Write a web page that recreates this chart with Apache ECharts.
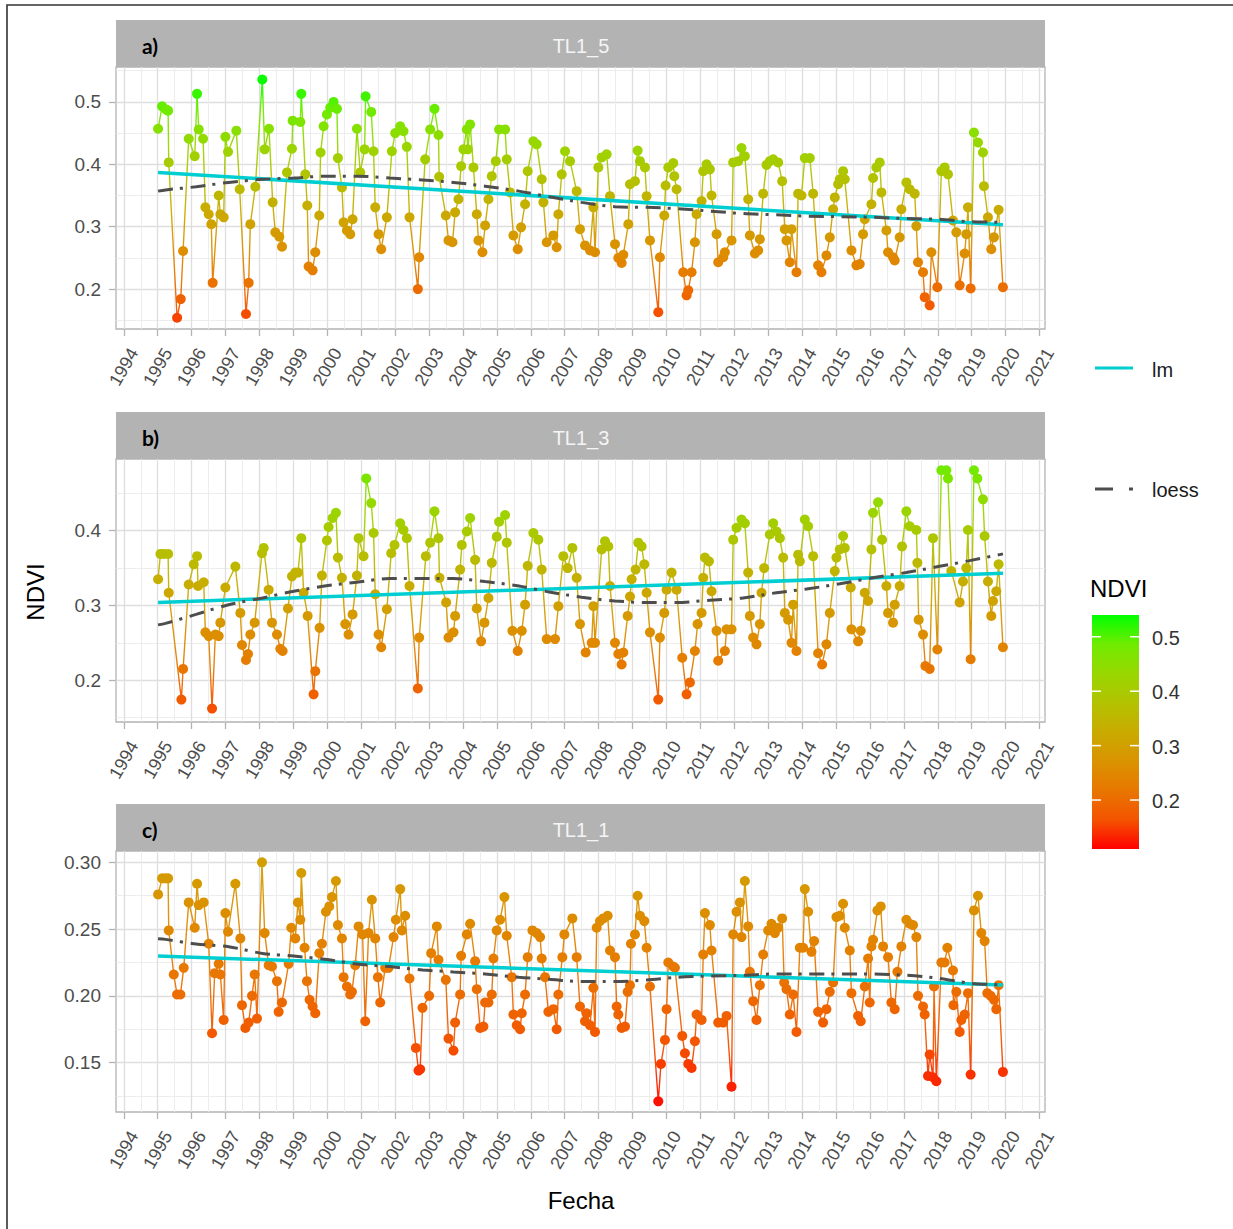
<!DOCTYPE html>
<html><head><meta charset="utf-8">
<script src="https://cdn.jsdelivr.net/npm/echarts@6/dist/echarts.min.js"></script>
<style>html,body{margin:0;padding:0;background:#fff}#c{width:1233px;height:1229px}</style>
</head><body><div id="c"></div>
<script>
// ---------- DATA ----------
const panelNames = ['TL1_5', 'TL1_3', 'TL1_1'];
const panelTags = ['a)', 'b)', 'c)'];
const xMajorTicks = [1994,1995,1996,1997,1998,1999,2000,2001,2002,2003,2004,2005,2006,2007,2008,2009,2010,2011,2012,2013,2014,2015,2016,2017,2018,2019,2020,2021];
const yTicksA = [0.2, 0.3, 0.4, 0.5];
const yTicksB = [0.2, 0.3, 0.4];
const yTicksC = [0.15, 0.20, 0.25, 0.30];
const cbTicks = [0.2, 0.3, 0.4, 0.5];

const pointsA = [
[1995.011,0.457],[1995.129,0.493],[1995.247,0.488],[1995.306,0.486],[1995.325,0.403],[1995.571,0.154],[1995.679,0.184],[1995.748,0.261],[1995.914,0.441],
[1996.091,0.413],[1996.16,0.513],[1996.209,0.456],[1996.337,0.441],[1996.405,0.331],[1996.504,0.320],[1996.58,0.304],[1996.62,0.210],[1996.798,0.350],[1996.847,0.320],[1996.945,0.315],
[1996.995,0.444],[1997.073,0.420],[1997.318,0.454],[1997.417,0.360],[1997.603,0.160],[1997.682,0.210],[1997.731,0.304],[1997.878,0.364],
[1998.084,0.536],[1998.153,0.424],[1998.281,0.457],[1998.389,0.339],[1998.467,0.291],[1998.585,0.284],[1998.664,0.268],[1998.811,0.387],[1998.958,0.425],[1998.978,0.470],
[1999.204,0.468],[1999.233,0.513],[1999.351,0.384],[1999.41,0.334],[1999.449,0.236],[1999.567,0.230],[1999.646,0.259],[1999.763,0.318],[1999.802,0.419],[1999.891,0.461],
[1999.989,0.480],[2000.087,0.491],[2000.185,0.500],[2000.284,0.489],[2000.313,0.410],[2000.431,0.363],[2000.48,0.307],[2000.578,0.294],[2000.676,0.288],[2000.745,0.312],[2000.873,0.457],[2000.971,0.387],
[2001.10,0.424],[2001.13,0.509],[2001.295,0.484],[2001.364,0.421],[2001.413,0.331],[2001.511,0.288],[2001.589,0.264],[2001.756,0.315],[2001.903,0.421],
[2002.002,0.450],[2002.149,0.461],[2002.247,0.453],[2002.345,0.428],[2002.424,0.315],[2002.669,0.200],[2002.709,0.251],[2002.885,0.408],
[2003.033,0.456],[2003.16,0.489],[2003.278,0.447],[2003.298,0.380],[2003.494,0.318],[2003.573,0.278],[2003.691,0.275],[2003.769,0.323],[2003.867,0.344],[2003.946,0.397],
[2004.014,0.424],[2004.113,0.456],[2004.142,0.424],[2004.211,0.464],[2004.309,0.395],[2004.407,0.320],[2004.456,0.278],[2004.574,0.259],[2004.653,0.302],[2004.751,0.344],[2004.849,0.381],[2004.967,0.405],
[2005.065,0.456],[2005.242,0.456],[2005.291,0.408],[2005.389,0.355],[2005.487,0.286],[2005.615,0.264],[2005.713,0.299],[2005.831,0.336],[2005.909,0.389],
[2006.076,0.437],[2006.174,0.432],[2006.322,0.376],[2006.371,0.339],[2006.469,0.275],[2006.665,0.286],[2006.763,0.267],[2006.812,0.320],[2006.911,0.384],
[2007.009,0.421],[2007.156,0.405],[2007.352,0.357],[2007.45,0.296],[2007.598,0.270],[2007.746,0.262],[2007.844,0.331],[2007.893,0.259],
[2007.991,0.395],[2008.089,0.411],[2008.237,0.416],[2008.335,0.349],[2008.482,0.272],[2008.58,0.250],[2008.678,0.242],[2008.727,0.255],[2008.875,0.304],[2008.924,0.368],
[2009.071,0.373],[2009.15,0.422],[2009.218,0.405],[2009.366,0.395],[2009.415,0.349],[2009.513,0.278],[2009.758,0.163],[2009.807,0.251],[2009.935,0.318],[2009.974,0.366],
[2010.053,0.395],[2010.2,0.402],[2010.23,0.381],[2010.298,0.360],[2010.495,0.227],[2010.593,0.190],[2010.642,0.198],[2010.74,0.227],[2010.838,0.275],[2010.887,0.320],
[2011.035,0.341],[2011.084,0.389],[2011.182,0.400],[2011.28,0.392],[2011.329,0.350],[2011.477,0.288],[2011.525,0.243],[2011.673,0.251],[2011.722,0.259],[2011.918,0.278],
[2011.967,0.403],[2012.115,0.405],[2012.213,0.426],[2012.311,0.413],[2012.409,0.344],[2012.458,0.286],[2012.606,0.257],[2012.704,0.262],[2012.753,0.280],[2012.851,0.353],[2012.949,0.399],
[2013.047,0.405],[2013.146,0.408],[2013.293,0.403],[2013.411,0.373],[2013.489,0.296],[2013.538,0.278],[2013.636,0.243],[2013.686,0.296],[2013.833,0.227],[2013.882,0.353],
[2013.98,0.350],[2014.078,0.410],[2014.226,0.410],[2014.324,0.353],[2014.471,0.238],[2014.569,0.227],[2014.716,0.254],[2014.815,0.283],[2014.913,0.328],
[2014.962,0.347],[2015.06,0.368],[2015.109,0.376],[2015.207,0.389],[2015.257,0.376],[2015.453,0.262],[2015.6,0.238],[2015.698,0.240],[2015.796,0.288],[2015.846,0.312],
[2016.042,0.336],[2016.091,0.378],[2016.189,0.395],[2016.287,0.403],[2016.337,0.355],[2016.484,0.294],[2016.533,0.259],[2016.68,0.251],[2016.729,0.246],[2016.876,0.283],[2016.925,0.328],
[2017.073,0.371],[2017.171,0.360],[2017.318,0.353],[2017.367,0.301],[2017.416,0.243],[2017.564,0.227],[2017.613,0.187],[2017.76,0.174],[2017.809,0.259],[2017.986,0.203],
[2018.104,0.389],[2018.202,0.395],[2018.3,0.384],[2018.447,0.310],[2018.546,0.291],[2018.644,0.206],[2018.791,0.257],[2018.84,0.288],[2018.889,0.331],[2018.968,0.201],
[2019.066,0.451],[2019.184,0.435],[2019.331,0.419],[2019.36,0.365],[2019.478,0.315],[2019.576,0.264],[2019.655,0.283],[2019.792,0.327],[2019.92,0.203]
];

const pointsB = [
[1995.011,0.335],[1995.08,0.369],[1995.178,0.369],[1995.306,0.369],[1995.325,0.317],[1995.698,0.174],[1995.748,0.215],[1995.914,0.328],
[1996.062,0.355],[1996.16,0.366],[1996.189,0.326],[1996.356,0.331],[1996.405,0.264],[1996.504,0.259],[1996.602,0.162],[1996.7,0.261],[1996.798,0.259],[1996.847,0.277],
[1996.995,0.324],[1997.289,0.352],[1997.436,0.290],[1997.485,0.247],[1997.603,0.227],[1997.662,0.235],[1997.731,0.261],[1997.858,0.277],
[1998.074,0.370],[1998.124,0.377],[1998.271,0.321],[1998.369,0.277],[1998.516,0.261],[1998.614,0.242],[1998.683,0.239],[1998.84,0.296],[1998.958,0.339],
[1999.056,0.344],[1999.135,0.344],[1999.233,0.390],[1999.302,0.317],[1999.42,0.286],[1999.596,0.181],[1999.646,0.212],[1999.773,0.270],[1999.842,0.340],
[1999.989,0.387],[2000.038,0.405],[2000.156,0.417],[2000.254,0.424],[2000.313,0.364],[2000.431,0.337],[2000.529,0.275],[2000.627,0.261],[2000.745,0.288],[2000.873,0.340],[2000.922,0.390],
[2001.069,0.366],[2001.148,0.470],[2001.295,0.437],[2001.364,0.397],[2001.413,0.315],[2001.511,0.261],[2001.589,0.244],[2001.756,0.295],[2001.884,0.370],
[2001.982,0.381],[2002.149,0.410],[2002.247,0.401],[2002.345,0.390],[2002.424,0.326],[2002.669,0.189],[2002.709,0.257],[2002.905,0.366],
[2003.033,0.384],[2003.16,0.426],[2003.278,0.390],[2003.308,0.337],[2003.504,0.304],[2003.573,0.257],[2003.72,0.264],[2003.769,0.286],[2003.916,0.348],[2003.965,0.381],
[2004.113,0.399],[2004.211,0.417],[2004.358,0.361],[2004.407,0.296],[2004.535,0.252],[2004.633,0.277],[2004.751,0.310],[2004.849,0.357],[2004.996,0.392],
[2005.065,0.412],[2005.242,0.421],[2005.291,0.384],[2005.458,0.266],[2005.615,0.239],[2005.733,0.266],[2005.831,0.301],[2005.909,0.353],
[2006.076,0.397],[2006.223,0.388],[2006.322,0.348],[2006.469,0.255],[2006.714,0.255],[2006.812,0.299],[2006.96,0.366],
[2007.087,0.350],[2007.225,0.377],[2007.352,0.337],[2007.45,0.275],[2007.618,0.237],[2007.795,0.250],[2007.844,0.299],[2007.893,0.250],
[2008.089,0.375],[2008.187,0.386],[2008.286,0.379],[2008.335,0.326],[2008.482,0.250],[2008.58,0.235],[2008.678,0.221],[2008.727,0.237],[2008.855,0.286],[2008.924,0.312],
[2008.973,0.335],[2009.091,0.348],[2009.169,0.384],[2009.267,0.379],[2009.346,0.355],[2009.415,0.317],[2009.513,0.264],[2009.758,0.174],[2009.807,0.257],[2009.935,0.290],
[2010.004,0.321],[2010.151,0.344],[2010.298,0.321],[2010.465,0.230],[2010.593,0.181],[2010.691,0.197],[2010.838,0.239],[2010.917,0.275],[2011.035,0.290],
[2011.084,0.337],[2011.133,0.364],[2011.251,0.359],[2011.329,0.319],[2011.477,0.266],[2011.525,0.226],[2011.722,0.239],[2011.771,0.268],[2011.918,0.268],
[2011.967,0.388],[2012.066,0.404],[2012.213,0.415],[2012.311,0.410],[2012.409,0.344],[2012.458,0.286],[2012.556,0.257],[2012.655,0.248],[2012.753,0.275],[2012.802,0.317],[2012.88,0.350],
[2013.047,0.395],[2013.146,0.410],[2013.244,0.399],[2013.342,0.390],[2013.44,0.364],[2013.489,0.290],[2013.587,0.281],[2013.686,0.250],[2013.735,0.301],[2013.833,0.239],[2013.882,0.368],
[2013.931,0.359],[2014.078,0.415],[2014.176,0.406],[2014.324,0.366],[2014.471,0.236],[2014.589,0.221],[2014.716,0.248],[2014.815,0.290],[2014.962,0.346],
[2015.011,0.364],[2015.109,0.375],[2015.207,0.393],[2015.257,0.377],[2015.433,0.324],[2015.453,0.268],[2015.649,0.252],[2015.728,0.266],[2015.846,0.317],[2015.944,0.306],
[2016.042,0.375],[2016.091,0.424],[2016.238,0.438],[2016.356,0.388],[2016.484,0.326],[2016.533,0.290],[2016.68,0.277],[2016.729,0.301],[2016.876,0.326],[2016.945,0.379],
[2017.073,0.426],[2017.171,0.406],[2017.367,0.401],[2017.397,0.357],[2017.436,0.281],[2017.564,0.261],[2017.633,0.219],[2017.76,0.215],[2017.858,0.390],[2017.986,0.241],
[2018.104,0.481],[2018.251,0.481],[2018.3,0.470],[2018.398,0.346],[2018.644,0.304],[2018.742,0.332],[2018.84,0.350],[2018.889,0.401],[2018.968,0.228],
[2019.066,0.481],[2019.164,0.470],[2019.331,0.442],[2019.38,0.393],[2019.478,0.332],[2019.576,0.286],[2019.626,0.306],[2019.724,0.319],[2019.792,0.355],[2019.92,0.244]
];

const pointsC = [
[1995.011,0.276],[1995.129,0.288],[1995.227,0.288],[1995.306,0.288],[1995.325,0.249],[1995.473,0.216],[1995.571,0.201],[1995.669,0.201],[1995.767,0.221],[1995.914,0.270],
[1996.091,0.251],[1996.16,0.284],[1996.209,0.268],[1996.356,0.270],[1996.504,0.239],[1996.602,0.172],[1996.68,0.217],[1996.798,0.224],[1996.847,0.216],[1996.945,0.182],
[1996.995,0.262],[1997.073,0.248],[1997.289,0.284],[1997.436,0.243],[1997.485,0.193],[1997.584,0.176],[1997.682,0.180],[1997.78,0.200],[1997.858,0.216],[1997.927,0.183],
[1998.074,0.300],[1998.153,0.247],[1998.271,0.223],[1998.369,0.222],[1998.516,0.211],[1998.565,0.188],[1998.664,0.195],[1998.86,0.224],[1998.938,0.251],
[1999.056,0.243],[1999.135,0.270],[1999.204,0.257],[1999.233,0.292],[1999.331,0.236],[1999.4,0.211],[1999.478,0.197],[1999.567,0.192],[1999.646,0.187],[1999.763,0.232],[1999.842,0.239],
[1999.96,0.263],[2000.058,0.267],[2000.136,0.274],[2000.254,0.286],[2000.313,0.253],[2000.431,0.243],[2000.48,0.214],[2000.578,0.207],[2000.676,0.201],[2000.725,0.203],[2000.824,0.223],[2000.922,0.252],
[2001.04,0.246],[2001.118,0.181],[2001.216,0.247],[2001.314,0.272],[2001.413,0.243],[2001.491,0.214],[2001.56,0.195],[2001.707,0.221],[2001.805,0.221],
[2001.953,0.244],[2002.021,0.257],[2002.149,0.280],[2002.198,0.249],[2002.296,0.260],[2002.424,0.213],[2002.611,0.161],[2002.689,0.144],[2002.738,0.145],[2002.807,0.191],
[2003.003,0.200],[2003.062,0.232],[2003.229,0.252],[2003.278,0.227],[2003.494,0.212],[2003.573,0.168],[2003.72,0.159],[2003.769,0.180],[2003.916,0.201],[2003.946,0.230],
[2004.113,0.246],[2004.211,0.254],[2004.358,0.226],[2004.407,0.205],[2004.505,0.176],[2004.603,0.177],[2004.653,0.195],[2004.751,0.195],[2004.849,0.201],[2004.898,0.228],[2004.996,0.249],
[2005.094,0.257],[2005.222,0.274],[2005.291,0.245],[2005.438,0.214],[2005.487,0.186],[2005.585,0.178],[2005.683,0.175],[2005.733,0.187],[2005.831,0.201],[2005.909,0.229],
[2006.047,0.249],[2006.174,0.247],[2006.273,0.244],[2006.322,0.228],[2006.42,0.214],[2006.518,0.188],[2006.665,0.190],[2006.763,0.175],[2006.812,0.201],[2006.93,0.229],
[2006.989,0.246],[2007.225,0.258],[2007.352,0.229],[2007.45,0.192],[2007.598,0.181],[2007.647,0.187],[2007.746,0.178],[2007.844,0.206],[2007.893,0.173],
[2007.942,0.251],[2008.04,0.256],[2008.138,0.258],[2008.266,0.260],[2008.335,0.234],[2008.482,0.229],[2008.531,0.192],[2008.58,0.186],[2008.678,0.176],[2008.777,0.177],[2008.855,0.203],[2008.924,0.208],
[2008.953,0.239],[2009.071,0.246],[2009.15,0.275],[2009.218,0.260],[2009.346,0.256],[2009.415,0.236],[2009.513,0.207],[2009.758,0.121],[2009.837,0.149],[2009.955,0.167],[2010.004,0.190],
[2010.053,0.225],[2010.2,0.222],[2010.249,0.221],[2010.465,0.170],[2010.544,0.157],[2010.642,0.149],[2010.74,0.146],[2010.838,0.166],[2010.887,0.186],[2011.035,0.182],
[2011.084,0.231],[2011.133,0.262],[2011.28,0.253],[2011.329,0.234],[2011.525,0.180],[2011.673,0.180],[2011.771,0.185],[2011.918,0.132],
[2011.967,0.246],[2012.066,0.263],[2012.164,0.270],[2012.213,0.244],[2012.311,0.286],[2012.409,0.252],[2012.458,0.218],[2012.556,0.196],[2012.655,0.182],[2012.753,0.208],[2012.851,0.231],
[2012.998,0.249],[2013.096,0.254],[2013.195,0.247],[2013.293,0.251],[2013.411,0.258],[2013.47,0.210],[2013.538,0.205],[2013.636,0.186],[2013.735,0.201],[2013.833,0.173],[2013.931,0.236],
[2014.029,0.236],[2014.078,0.280],[2014.176,0.263],[2014.275,0.233],[2014.353,0.241],[2014.471,0.188],[2014.618,0.180],[2014.716,0.190],[2014.815,0.203],[2014.913,0.210],
[2015.011,0.259],[2015.109,0.260],[2015.207,0.269],[2015.257,0.251],[2015.404,0.234],[2015.453,0.202],[2015.649,0.185],[2015.728,0.181],[2015.846,0.207],[2015.944,0.228],[2015.993,0.195],
[2016.042,0.237],[2016.091,0.242],[2016.219,0.264],[2016.317,0.267],[2016.386,0.237],[2016.533,0.229],[2016.631,0.195],[2016.729,0.190],[2016.808,0.218],[2016.925,0.237],
[2017.073,0.257],[2017.171,0.254],[2017.269,0.253],[2017.367,0.244],[2017.416,0.200],[2017.564,0.192],[2017.613,0.186],[2017.711,0.140],[2017.76,0.156],[2017.858,0.139],[2017.888,0.207],[2017.956,0.136],
[2018.104,0.225],[2018.202,0.225],[2018.281,0.236],[2018.447,0.219],[2018.46,0.193],[2018.546,0.203],[2018.644,0.173],[2018.693,0.182],[2018.791,0.186],[2018.889,0.202],[2018.968,0.141],
[2019.066,0.264],[2019.184,0.275],[2019.282,0.247],[2019.38,0.241],[2019.459,0.202],[2019.557,0.200],[2019.655,0.197],[2019.724,0.190],[2019.792,0.208],[2019.92,0.143]
];

const lmDates = [1995.011, 2019.92];
const lmA = [0.387, 0.303];
const lmB = [0.304, 0.343];
const lmC = [0.2298, 0.2082];

const loessDates = [1995.01,1995.23,1996.13,1997.09,1998.09,1999.01,1999.92,2000.87,2001.84,2002.81,2003.72,2004.65,2005.65,2006.54,2007.5,2008.48,2009.41,2010.3,2011.28,2012.26,2013.24,2014.13,2015.11,2016.09,2017.07,2018.01,2018.94,2019.82,2019.92];
const loessA = [0.357,0.359,0.364,0.371,0.376,0.378,0.381,0.381,0.378,0.375,0.371,0.365,0.357,0.348,0.339,0.332,0.331,0.329,0.325,0.321,0.319,0.317,0.316,0.315,0.313,0.312,0.308,0.307,0.306];
const loessB = [0.274,0.276,0.288,0.301,0.310,0.319,0.326,0.331,0.336,0.336,0.336,0.332,0.326,0.318,0.311,0.306,0.304,0.304,0.307,0.310,0.317,0.322,0.329,0.337,0.344,0.352,0.360,0.368,0.369];
const loessC = [0.2428,0.2423,0.2388,0.2368,0.2318,0.2298,0.2274,0.2239,0.2219,0.2194,0.2179,0.2164,0.2139,0.2124,0.2107,0.2107,0.2119,0.2139,0.2149,0.2154,0.2164,0.2164,0.2164,0.2164,0.2154,0.2132,0.2095,0.2083,0.2082];

// ---------- LAYOUT / STYLE ----------
const ndviColors = ['#FF0000','#F45300','#E87700','#DA9300','#C9AB00','#B3C200','#98D700','#70EB00','#00FF00'];
const cbMin = 0.11, cbMax = 0.54;
const xMin = 1993.77, xMax = 2021.16;
const xMinorTicks = xMajorTicks.slice(0, -1).map(v => v + 0.5);
const panels = [
  {pts: pointsA, lm: lmA, loess: loessA, ymin: 0.136, ymax: 0.556, major: yTicksA, minor: [0.15,0.25,0.35,0.45,0.55], dec: 1, top: 67, height: 262},
  {pts: pointsB, lm: lmB, loess: loessB, ymin: 0.144, ymax: 0.496, major: yTicksB, minor: [0.15,0.25,0.35,0.45], dec: 1, top: 459, height: 263},
  {pts: pointsC, lm: lmC, loess: loessC, ymin: 0.1130, ymax: 0.3085, major: yTicksC, minor: [0.125,0.175,0.225,0.275], dec: 2, top: 851, height: 261}
];
const GL = 116, GW = 929;
const FONT = 'Liberation Sans, Arial, sans-serif';
const gridCol = '#DEDEDE', minorCol = '#EBEBEB', frameCol = '#B3B3B3', textCol = '#4D4D4D';

const grids = [], xAxes = [], yAxes = [], series = [], graphics = [];
panels.forEach((p, i) => {
  grids.push({left: GL, top: p.top, width: GW, height: p.height, show: true, backgroundColor: '#fff',
    borderColor: frameCol, borderWidth: 1.3, containLabel: false, outerBoundsMode: 'none'});
  xAxes.push({type: 'value', gridIndex: i, min: xMin, max: xMax, position: 'bottom',
    axisLine: {show: false},
    axisTick: {show: true, customValues: xMajorTicks, length: 7, lineStyle: {color: frameCol, width: 1.3}},
    axisLabel: {show: true, customValues: xMajorTicks, rotate: 60, align: 'center', verticalAlign: 'middle',
      margin: 38, fontSize: 18, fontFamily: FONT, color: textCol, hideOverlap: false,
      formatter: v => String(Math.round(v))},
    splitLine: {show: true, lineStyle: {color: gridCol, width: 1.3}}});
  xAxes.push({type: 'value', gridIndex: i, min: xMin, max: xMax, position: 'top',
    axisLine: {show: false}, axisTick: {show: false, customValues: xMinorTicks}, axisLabel: {show: false},
    splitLine: {show: true, lineStyle: {color: minorCol, width: 0.9}}});
  yAxes.push({type: 'value', gridIndex: i, min: p.ymin, max: p.ymax, position: 'left',
    axisLine: {show: false},
    axisTick: {show: true, customValues: p.major, length: 7, lineStyle: {color: frameCol, width: 1.3}},
    axisLabel: {show: true, customValues: p.major, margin: 15, fontSize: 19, fontFamily: FONT, color: textCol,
      formatter: v => v.toFixed(p.dec)},
    splitLine: {show: true, lineStyle: {color: gridCol, width: 1.3}}});
  yAxes.push({type: 'value', gridIndex: i, min: p.ymin, max: p.ymax, position: 'right',
    axisLine: {show: false}, axisTick: {show: false, customValues: p.minor}, axisLabel: {show: false},
    splitLine: {show: true, lineStyle: {color: minorCol, width: 0.9}}});

  series.push({type: 'line', name: 'NDVI' + i, xAxisIndex: 2 * i, yAxisIndex: 2 * i, data: p.pts,
    symbol: 'circle', symbolSize: 10, showSymbol: true, lineStyle: {width: 1.4, opacity: 0.95},
    silent: true, z: 3, emphasis: {disabled: true}});
  series.push({type: 'line', name: 'lm' + i, xAxisIndex: 2 * i, yAxisIndex: 2 * i,
    data: lmDates.map((d, k) => [d, p.lm[k]]), symbol: 'none',
    lineStyle: {color: '#00CED1', width: 3.5}, itemStyle: {color: '#00CED1'}, silent: true, z: 5});
  series.push({type: 'line', name: 'loess' + i, xAxisIndex: 2 * i, yAxisIndex: 2 * i,
    data: loessDates.map((d, k) => [d, p.loess[k]]), symbol: 'none', smooth: 0.3,
    lineStyle: {color: '#4D4D4D', width: 3, type: [15, 7, 3, 7.7]}, itemStyle: {color: '#4D4D4D'}, silent: true, z: 6});

  // facet strip
  const sTop = p.top - 47;
  graphics.push({type: 'rect', shape: {x: GL, y: sTop, width: GW, height: 47}, style: {fill: '#B3B3B3'}, z: 10});
  graphics.push({type: 'text', x: 581, y: sTop + 26, style: {text: panelNames[i], x: 0, y: 0, fill: '#F5F5F5',
    font: '20px ' + FONT, align: 'center', verticalAlign: 'middle', textAlign: 'center', textVerticalAlign: 'middle'}, z: 11});
  graphics.push({type: 'text', x: 142, y: sTop + 25, style: {text: panelTags[i], x: 0, y: 0, fill: '#000',
    font: 'bold 21px Lato, Open Sans, sans-serif', align: 'left', verticalAlign: 'middle', textAlign: 'left', textVerticalAlign: 'middle'}, z: 11});
});

function txt(t, x, y, size, color, align, extra) {
  return Object.assign({type: 'text', x: x, y: y, z: 20, style: {text: t, x: 0, y: 0, fill: color,
    font: size + 'px ' + FONT, align: align, verticalAlign: 'middle', textAlign: align, textVerticalAlign: 'middle'}}, extra || {});
}
// outer frame
graphics.push({type: 'polyline', shape: {points: [[7, 1240], [7, 5], [1240, 5]]}, style: {stroke: '#333', lineWidth: 1.6, fill: null}, z: 20});
// axis titles
graphics.push(txt('Fecha', 581, 1200, 24, '#000', 'center'));
graphics.push(txt('NDVI', 35, 592, 24, '#000', 'center', {rotation: Math.PI / 2}));
// legend lm / loess
graphics.push({type: 'line', shape: {x1: 1095, y1: 368, x2: 1133, y2: 368}, style: {stroke: '#00CED1', lineWidth: 3}, z: 20});
graphics.push(txt('lm', 1152, 370, 20, '#1A1A1A', 'left'));
graphics.push({type: 'line', shape: {x1: 1095, y1: 489, x2: 1133, y2: 489}, style: {stroke: '#4D4D4D', lineWidth: 3, lineDash: [18, 16, 4, 100]}, z: 20});
graphics.push(txt('loess', 1152, 490, 20, '#1A1A1A', 'left'));
// colour bar
const cbTop = 615, cbH = 234, cbX = 1092, cbW = 47;
graphics.push(txt('NDVI', 1090, 588, 24, '#000', 'left'));
graphics.push({type: 'rect', shape: {x: cbX, y: cbTop, width: cbW, height: cbH}, z: 20,
  style: {fill: {type: 'linear', x: 0, y: 0, x2: 0, y2: 1,
    colorStops: ndviColors.slice().reverse().map((c, k) => ({offset: k / (ndviColors.length - 1), color: c}))}}});
cbTicks.forEach(v => {
  const y = cbTop + (cbMax - v) / (cbMax - cbMin) * cbH;
  graphics.push({type: 'line', shape: {x1: cbX, y1: y, x2: cbX + 9, y2: y}, style: {stroke: '#fff', lineWidth: 1.5}, z: 21});
  graphics.push({type: 'line', shape: {x1: cbX + cbW - 9, y1: y, x2: cbX + cbW, y2: y}, style: {stroke: '#fff', lineWidth: 1.5}, z: 21});
  graphics.push(txt(v.toFixed(1), 1152, y + 1, 20, '#333', 'left'));
});

const chart = echarts.init(document.getElementById('c'), null, {renderer: 'svg'});
chart.setOption({
  animation: false,
  backgroundColor: '#fff',
  grid: grids, xAxis: xAxes, yAxis: yAxes, series: series,
  visualMap: [{type: 'continuous', show: false, min: cbMin, max: cbMax, dimension: 1,
    seriesIndex: [0, 3, 6], inRange: {color: ndviColors}}],
  graphic: graphics
});
</script></body></html>
